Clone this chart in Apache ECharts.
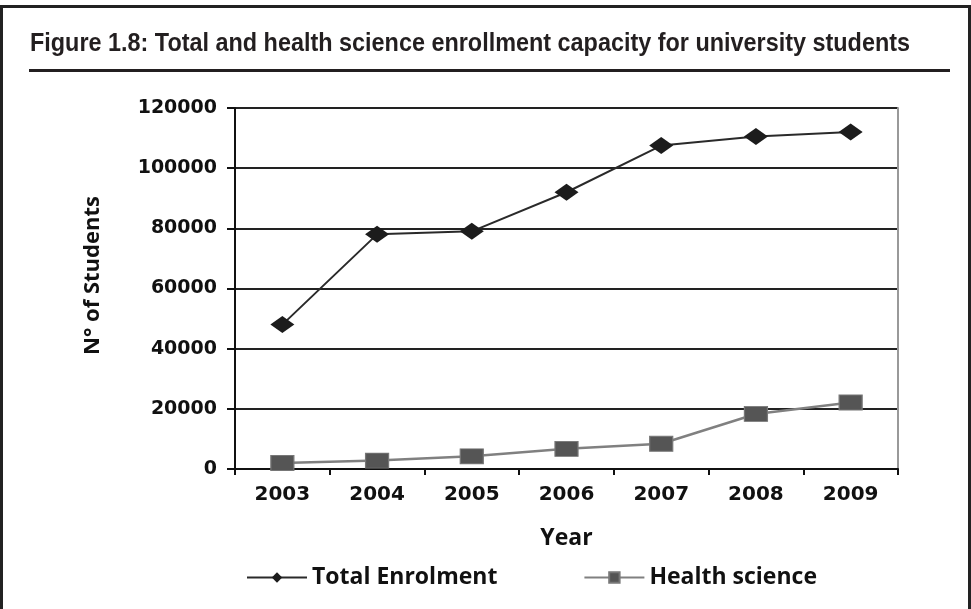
<!DOCTYPE html>
<html>
<head>
<meta charset="utf-8">
<script src="https://cdn.jsdelivr.net/npm/echarts@6/dist/echarts.min.js"></script>
<style>
  html, body { margin: 0; padding: 0; background: #fff; }
  #chart { width: 971px; height: 609px; }
</style>
</head>
<body>
<div id="chart"></div>
<script>
// Enrollment capacity per academic year
const years = ['2003', '2004', '2005', '2006', '2007', '2008', '2009'];
const totalEnrolment = [48000, 78000, 79000, 92000, 107500, 110500, 112000];
const healthScience = [2000, 2800, 4200, 6700, 8400, 18300, 22100];
const seriesNames = ['Total Enrolment', 'Health science'];

const titleText = 'Figure 1.8: Total and health science enrollment capacity for university students';
const titleFont = 'bold 25px "Liberation Sans", Arial, sans-serif';

// narrow the heading so it spans the framed width
const measure = document.createElement('canvas').getContext('2d');
measure.font = titleFont;
const titleScale = 880 / measure.measureText(titleText).width;

const tickFont = '"DejaVu Sans", sans-serif';
const labelFont = '"Open Sans", sans-serif';

const chart = echarts.init(document.getElementById('chart'), null, { renderer: 'canvas' });

chart.setOption({
  backgroundColor: '#fff',
  animation: false,
  graphic: [
    // outer frame
    { type: 'rect', shape: { x: 0, y: 5, width: 3, height: 604 }, style: { fill: '#222' } },
    { type: 'rect', shape: { x: 0, y: 5, width: 971, height: 3 }, style: { fill: '#222' } },
    { type: 'rect', shape: { x: 968, y: 5, width: 3, height: 604 }, style: { fill: '#222' } },
    // heading and rule below it
    {
      type: 'text', x: 30, y: 44, scaleX: titleScale, scaleY: 1,
      style: { text: titleText, font: titleFont, fill: '#231f20', verticalAlign: 'middle', align: 'left' }
    },
    { type: 'rect', shape: { x: 29, y: 69, width: 921, height: 3 }, style: { fill: '#231f20' } }
  ],
  grid: { left: 235, right: 73, top: 108, bottom: 140, outerBoundsMode: 'none' },
  legend: {
    data: seriesNames,
    left: 241,
    top: 561,
    itemWidth: 60,
    itemHeight: 13,
    itemGap: 86,
    textStyle: { fontFamily: labelFont, fontWeight: 'bold', fontSize: 23, color: '#111' }
  },
  xAxis: {
    type: 'category',
    data: years,
    boundaryGap: true,
    name: 'Year',
    nameLocation: 'middle',
    nameGap: 58,
    nameTextStyle: { fontFamily: labelFont, fontWeight: 'bold', fontSize: 23, color: '#111' },
    axisLine: { show: true, lineStyle: { color: '#111', width: 2 } },
    axisTick: { show: true, interval: 0, length: 6, lineStyle: { color: '#111', width: 2 } },
    axisLabel: { interval: 0, margin: 16, fontFamily: tickFont, fontWeight: 'bold', fontSize: 20, color: '#111' },
    splitLine: { show: false }
  },
  yAxis: [
    {
      type: 'value',
      min: 0,
      max: 120000,
      interval: 20000,
      name: 'N° of Students',
      nameLocation: 'middle',
      nameGap: 131,
      nameRotate: 90,
      nameTextStyle: { fontFamily: labelFont, fontWeight: 'bold', fontSize: 22, color: '#111', padding: [0, 0, 0, 26] },
      axisLine: { show: true, lineStyle: { color: '#111', width: 2 } },
      axisTick: { show: true, length: 8, lineStyle: { color: '#111', width: 2 } },
      axisLabel: {
        margin: 18, fontFamily: tickFont, fontWeight: 'bold', fontSize: 19, color: '#111',
        formatter: (v) => String(v)
      },
      splitLine: { show: true, lineStyle: { color: '#222', width: 2 } }
    },
    {
      // light border on the right side of the plot
      type: 'value',
      position: 'right',
      min: 0,
      max: 120000,
      interval: 20000,
      axisLine: { show: true, lineStyle: { color: '#999', width: 2 } },
      axisTick: { show: false },
      axisLabel: { show: false },
      splitLine: { show: false }
    }
  ],
  series: [
    {
      name: seriesNames[0],
      type: 'line',
      data: totalEnrolment,
      symbol: 'diamond',
      symbolSize: [24, 17],
      itemStyle: { color: '#1c1c1c' },
      lineStyle: { color: '#2a2a2a', width: 2 },
      z: 3
    },
    {
      name: seriesNames[1],
      type: 'line',
      data: healthScience,
      symbol: 'rect',
      symbolSize: [23, 15],
      itemStyle: { color: '#555', borderColor: '#777', borderWidth: 1 },
      lineStyle: { color: '#808080', width: 2.5 },
      z: 2
    }
  ]
});
</script>
</body>
</html>
